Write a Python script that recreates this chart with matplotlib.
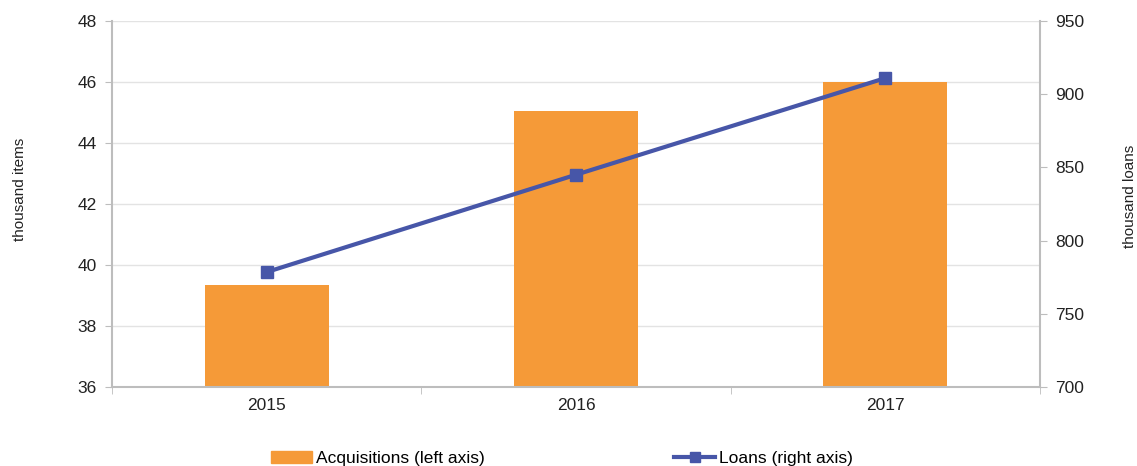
import matplotlib
matplotlib.use("Agg")
import matplotlib.pyplot as plt
from matplotlib.lines import Line2D
from matplotlib.patches import Patch

years = ["2015", "2016", "2017"]
acquisitions = [39.35, 45.05, 46.0]
loans = [778.5, 845.0, 911.0]

plt.rcParams['font.family'] = ['Liberation Sans', 'DejaVu Sans']

fig = plt.figure(figsize=(11.37, 4.66), dpi=100)
ax = fig.add_axes([112/1137, 1-387/466, 928/1137, 366/466])
ax2 = ax.twinx()

x = list(range(len(years)))
orange = '#F59A38'
blue = '#4756A8'
grey = '#BDBDBD'
fs = 12.5

ax.bar(x, acquisitions, width=0.4, color=orange, zorder=2)
ax.set_ylim(36, 48)
ax.set_yticks(range(36, 49, 2))
ax.set_xlim(-0.5, 2.5)
ax.set_xticks(x)
ax.set_xticklabels(years)
ax.set_xticks([-0.5, 0.5, 1.5, 2.5], minor=True)
ax.tick_params(axis='x', which='major', length=0, pad=8, labelsize=fs, colors='#222222')
ax.tick_params(axis='x', which='minor', length=5, color=grey)
ax.tick_params(axis='y', length=5, color=grey, labelsize=fs, labelcolor='#222222', pad=6)
ax.grid(axis='y', color='#E3E3E3', linewidth=1, zorder=0)
ax.set_axisbelow(True)

ax2.plot(x, loans, color=blue, linewidth=3, marker='s', markersize=9, zorder=3)
ax2.set_ylim(700, 950)
ax2.set_yticks(range(700, 951, 50))
ax2.tick_params(axis='y', length=5, color=grey, labelsize=fs, labelcolor='#222222', pad=6)

for a in (ax, ax2):
    a.spines['top'].set_visible(False)
    for s in ('left', 'right', 'bottom'):
        a.spines[s].set_color(grey)
        a.spines[s].set_linewidth(1.5)
ax.spines['right'].set_visible(False)
ax2.spines['left'].set_visible(False)
ax2.spines['bottom'].set_visible(False)

ax.set_ylabel("thousand items", fontsize=11, color='#222222')
ax.yaxis.set_label_coords(-0.092, 0.54)
ax2.set_ylabel("thousand loans", fontsize=11, color='#222222', rotation=90)
ax2.yaxis.set_label_coords(1.089, 0.52)

handles = [Patch(color=orange), Line2D([0], [0], color=blue, linewidth=3, marker='s', markersize=7)]
labels = ["Acquisitions (left axis)", "Loans (right axis)"]
fig.legend(handles, labels, loc='lower center', bbox_to_anchor=(0.494, -0.033), ncol=2,
           frameon=False, fontsize=fs, columnspacing=10.9, handlelength=2.4, handletextpad=0.2)

fig.savefig("out.png", dpi=100)
